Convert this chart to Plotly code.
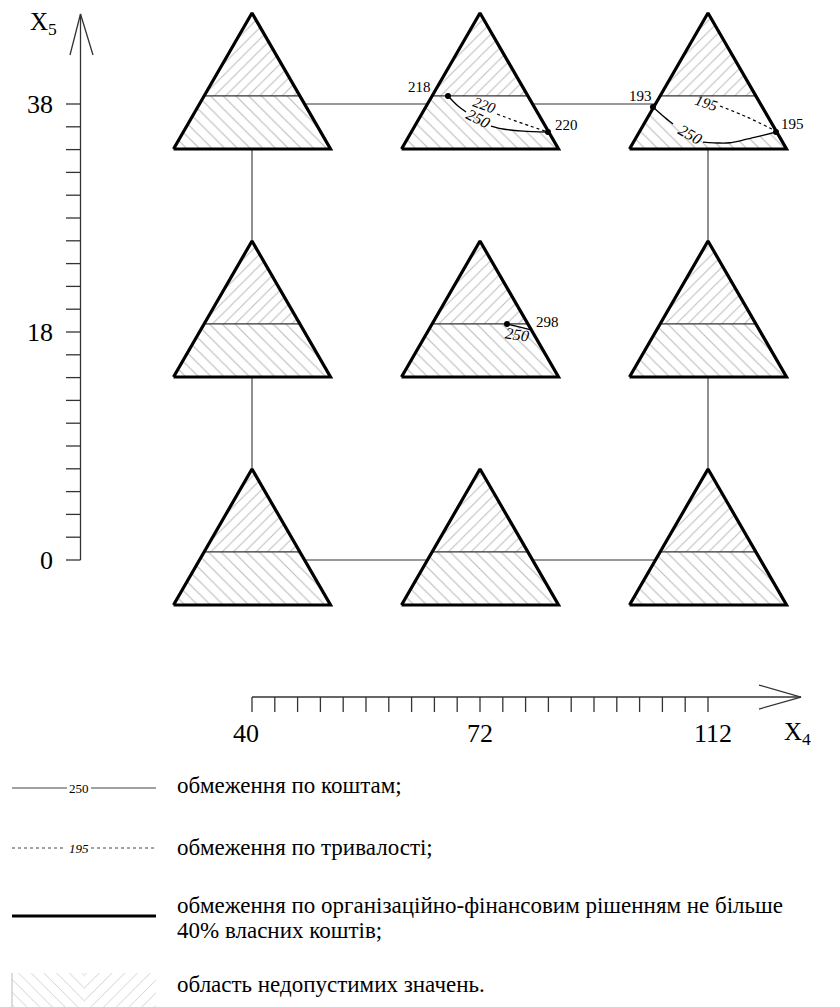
import plotly.graph_objects as go

# ---------------- data ----------------
x4_tick_labels = ["40", "72", "112"]      # X4 levels (grid columns)
x5_tick_labels = ["0", "18", "38"]        # X5 levels (grid rows)
minor_intervals = 20                      # minor tick intervals between first and last level

# frame links between grid cells (col, row)
frame_links = [((0, 2), (1, 2)), ((1, 2), (2, 2)), ((0, 0), (1, 0)), ((1, 0), (2, 0)),
               ((0, 2), (0, 1)), ((0, 1), (0, 0)), ((2, 2), (2, 1)), ((2, 1), (2, 0))]

# constraint curves in local triangle coords (s: across half-width, h: height fraction)
# top-middle cell (X4=72, X5=38)
tm_cost_s = [-0.408, -0.280, -0.178, -0.025, 0.140, 0.293, 0.548, 0.866]
tm_cost_h = [0.390, 0.316, 0.272, 0.221, 0.169, 0.147, 0.132, 0.125]
tm_time_s = [0.217, 0.382, 0.637, 0.866]
tm_time_h = [0.257, 0.221, 0.169, 0.125]
tm_values = ["218", "220"]
tm_cost_label, tm_time_label = "250", "220"

# top-right cell (X4=112, X5=38)
tr_cost_s = [-0.701, -0.573, -0.446, -0.255, -0.064, 0.153, 0.280, 0.420, 0.560, 0.700, 0.866]
tr_cost_h = [0.309, 0.243, 0.184, 0.103, 0.051, 0.044, 0.046, 0.062, 0.082, 0.101, 0.125]
tr_time_s = [0.153, 0.497, 0.866]
tr_time_h = [0.316, 0.235, 0.132]
tr_values = ["193", "195"]
tr_cost_label, tr_time_label = "250", "195"

# middle-centre cell (X4=72, X5=18)
mc_cost_s = [0.344, 0.497, 0.650]
mc_cost_h = [0.390, 0.368, 0.346]
mc_values = ["298"]
mc_cost_label = "250"

legend_texts = ["обмеження по коштам;",
                "обмеження по тривалості;",
                "обмеження по організаційно-фінансовим рішенням не більше",
                "40% власних коштів;",
                "область недопустимих значень."]
legend_cost_label, legend_time_label = "250", "195"

# ---------------- geometry / style ----------------
PAGE_OFF = 8                    # default body margin of the html page
FIG_W, FIG_H = 840 - PAGE_OFF, 1007 - PAGE_OFF
U = 228.0                       # pixels per grid unit
OX, OY = 252.0, 560.0           # page-pixel location of the (0,0) grid node
def ux(px): return (px - OX) / U
def vy(py): return (OY - py) / U

TW = 78.5 / U                   # triangle half width
TH = 136.0 / U                  # triangle height
BOFF = 45.0 / U                 # grid line height above triangle base
HD = 0.39                       # divider height fraction

SERIF = "Liberation Serif, Times New Roman, serif"
HATCH = "#7a7a7a"

def loc(i, j, s, h):
    return i + s * TW, j - BOFF + h * TH

def locs(i, j, ss, hh):
    pts = [loc(i, j, s, h) for s, h in zip(ss, hh)]
    return [p[0] for p in pts], [p[1] for p in pts]

fig = go.Figure()

def poly(xs, ys, **kw):
    fig.add_trace(go.Scatter(x=xs, y=ys, mode="lines", hoverinfo="skip", showlegend=False, **kw))

# ---- triangles: hatching ----
for i in range(3):
    for j in range(3):
        bl = loc(i, j, -1, 0); br = loc(i, j, 1, 0); ap = loc(i, j, 0, 1)
        dl = loc(i, j, -(1 - HD), HD); dr = loc(i, j, 1 - HD, HD)
        poly([dl[0], ap[0], dr[0], dl[0]], [dl[1], ap[1], dr[1], dl[1]],
             fill="toself", fillcolor="white", line=dict(width=0),
             fillpattern=dict(shape="/", fgcolor=HATCH, bgcolor="white", size=8, solidity=0.13))
        poly([bl[0], br[0], dr[0], dl[0], bl[0]], [bl[1], br[1], dr[1], dl[1], bl[1]],
             fill="toself", fillcolor="white", line=dict(width=0),
             fillpattern=dict(shape="\\", fgcolor=HATCH, bgcolor="white", size=9, solidity=0.13))

# ---- feasible (white) regions ----
def white_region(i, j, ss, hh, extra):
    xs, ys = locs(i, j, list(ss) + [e[0] for e in extra] + [ss[0]],
                  list(hh) + [e[1] for e in extra] + [hh[0]])
    poly(xs, ys, fill="toself", fillcolor="white", line=dict(width=0))

white_region(1, 2, tm_cost_s, tm_cost_h, [(1 - HD, HD)])
white_region(2, 2, tr_cost_s, tr_cost_h, [(1 - HD, HD), (-(1 - HD), HD)])
white_region(1, 1, mc_cost_s, mc_cost_h, [(1 - HD, HD)])

# ---- dividers ----
for i in range(3):
    for j in range(3):
        dl = loc(i, j, -(1 - HD), HD); dr = loc(i, j, 1 - HD, HD)
        poly([dl[0], dr[0]], [dl[1], dr[1]], line=dict(color="#333", width=1.3))

# ---- frame links ----
gl = BOFF / TH   # height fraction of the grid line
for (a, b) in frame_links:
    (i1, j1), (i2, j2) = a, b
    if j1 == j2:
        p1 = loc(i1, j1, 1 - gl, gl); p2 = loc(i2, j2, -(1 - gl), gl)
    else:
        p1 = loc(i1, j1, 0, 0); p2 = loc(i2, j2, 0, 1)
    poly([p1[0], p2[0]], [p1[1], p2[1]], line=dict(color="#333", width=1.1))

# ---- outlines ----
for i in range(3):
    for j in range(3):
        bl = loc(i, j, -1, 0); br = loc(i, j, 1, 0); ap = loc(i, j, 0, 1)
        poly([bl[0], br[0], ap[0], bl[0]], [bl[1], br[1], ap[1], bl[1]],
             line=dict(color="black", width=3.2))

# ---- constraint curves ----
def curve(i, j, ss, hh, dash="solid", gap=None):
    xs, ys = locs(i, j, ss, hh)
    if gap is not None:
        a, b = gap
        xs = xs[:a + 1] + [None] + xs[b:]
        ys = ys[:a + 1] + [None] + ys[b:]
    poly(xs, ys, line=dict(color="black", width=1.3 if dash == "solid" else 1.2,
                           dash=dash, shape="spline", smoothing=0.8), connectgaps=False)

curve(1, 2, tm_cost_s, tm_cost_h, gap=(2, 4))
curve(1, 2, tm_time_s, tm_time_h, dash="dot")
curve(2, 2, tr_cost_s, tr_cost_h, gap=(2, 4))
curve(2, 2, tr_time_s, tr_time_h, dash="dot")
curve(1, 1, mc_cost_s, mc_cost_h)

# dots
dx, dy = [], []
for (i, j, ss, hh) in [(1, 2, tm_cost_s, tm_cost_h), (2, 2, tr_cost_s, tr_cost_h)]:
    for k in (0, -1):
        p = loc(i, j, ss[k], hh[k]); dx.append(p[0]); dy.append(p[1])
p = loc(1, 1, mc_cost_s[0], mc_cost_h[0]); dx.append(p[0]); dy.append(p[1])
fig.add_trace(go.Scatter(x=dx, y=dy, mode="markers", marker=dict(color="black", size=6),
                         hoverinfo="skip", showlegend=False))

def txt(x, y, t, size, anchor="center", angle=0, yanchor="middle"):
    fig.add_annotation(x=x, y=y, text=t, showarrow=False, xanchor=anchor, yanchor=yanchor,
                       textangle=angle, font=dict(family=SERIF, size=size, color="black"))

# curve labels
x, y = loc(1, 2, -0.777, 0.456); txt(x, y, tm_values[0], 15)
x, y = loc(1, 2, 1.108, 0.176); txt(x, y, tm_values[1], 15)
x, y = loc(1, 2, -0.025, 0.221); txt(x, y, "<i>%s</i>" % tm_cost_label, 16, angle=27)
x, y = loc(1, 2, 0.051, 0.324); txt(x, y, "<i>%s</i>" % tm_time_label, 15, angle=20)
x, y = loc(2, 2, -0.866, 0.39); txt(x, y, tr_values[0], 15)
x, y = loc(2, 2, 1.07, 0.184); txt(x, y, tr_values[1], 15)
x, y = loc(2, 2, -0.229, 0.103); txt(x, y, "<i>%s</i>" % tr_cost_label, 16, angle=30)
x, y = loc(2, 2, -0.025, 0.338); txt(x, y, "<i>%s</i>" % tr_time_label, 15, angle=18)
x, y = loc(1, 1, 0.854, 0.404); txt(x, y, mc_values[0], 15)
x, y = loc(1, 1, 0.471, 0.309); txt(x, y, "<i>%s</i>" % mc_cost_label, 16, angle=8)

# ---- X5 axis (vertical) ----
ax_u = ux(80.5)
poly([ax_u, ax_u], [0, vy(14)], line=dict(color="#333", width=1.3))
poly([ux(70), ax_u, ux(93)], [vy(55), vy(14), vy(55)], line=dict(color="#333", width=1.3))
tx, ty = [], []
for k in range(minor_intervals + 1):
    v = 2.0 * k / minor_intervals
    tx += [ux(66), ax_u, None]; ty += [v, v, None]
poly(tx, ty, line=dict(color="#333", width=1.3))
for k, lab in enumerate(x5_tick_labels):
    txt(ux(55), k, lab, 26, anchor="right")
txt(ux(28), vy(23), "X<sub>5</sub>", 25, anchor="left")

# ---- X4 axis (horizontal) ----
ax_v = vy(697)
poly([0, ux(801)], [ax_v, ax_v], line=dict(color="#333", width=1.3))
poly([ux(759), ux(801), ux(759)], [vy(685), ax_v, vy(709)], line=dict(color="#333", width=1.3))
tx, ty = [], []
for k in range(minor_intervals + 1):
    u = 2.0 * k / minor_intervals
    tx += [u, u, None]; ty += [ax_v, vy(712), None]
poly(tx, ty, line=dict(color="#333", width=1.3))
for k, lab in enumerate(x4_tick_labels):
    txt(k - 0.025 * (k == 0) + 0.02 * (k == 2), vy(733), lab, 26)
txt(ux(782), vy(733), "X<sub>4</sub>", 25, anchor="left")

# ---- legend ----
L0, L1 = ux(12), ux(156)
yl = vy(788)
poly([L0, ux(67), None, ux(91), L1], [yl, yl, None, yl, yl], line=dict(color="#444", width=1.1))
txt(ux(79), yl, legend_cost_label, 13)
yl = vy(848)
poly([L0, ux(66), None, ux(91), L1], [yl, yl, None, yl, yl], line=dict(color="#444", width=1, dash="dot"))
txt(ux(79), yl, "<i>%s</i>" % legend_time_label, 13)
yl = vy(916)
poly([L0, L1], [yl, yl], line=dict(color="black", width=3.2))
yt, yb, xm = vy(973), vy(1010), ux(85)
poly([L0, xm, xm, L0, L0], [yt, yt, yb, yb, yt], fill="toself", fillcolor="white", line=dict(width=0),
     fillpattern=dict(shape="\\", fgcolor="#9a9a9a", bgcolor="white", size=9, solidity=0.1))
poly([xm, L1, L1, xm, xm], [yt, yt, yb, yb, yt], fill="toself", fillcolor="white", line=dict(width=0),
     fillpattern=dict(shape="/", fgcolor="#9a9a9a", bgcolor="white", size=9, solidity=0.1))
poly([L0, L0], [yt, yb], line=dict(color="#bbb", width=1))

TX = ux(175)
for t, py in zip(legend_texts, [785, 847, 905, 930, 984]):
    txt(TX, vy(py), t, 23, anchor="left")

fig.update_layout(
    width=FIG_W, height=FIG_H, margin=dict(l=0, r=0, t=0, b=0),
    paper_bgcolor="white", plot_bgcolor="white", showlegend=False,
    xaxis=dict(range=[ux(PAGE_OFF), ux(PAGE_OFF + FIG_W)], visible=False, fixedrange=True),
    yaxis=dict(range=[vy(PAGE_OFF + FIG_H), vy(PAGE_OFF)], visible=False, fixedrange=True),
)
fig.write_html("out.html")
